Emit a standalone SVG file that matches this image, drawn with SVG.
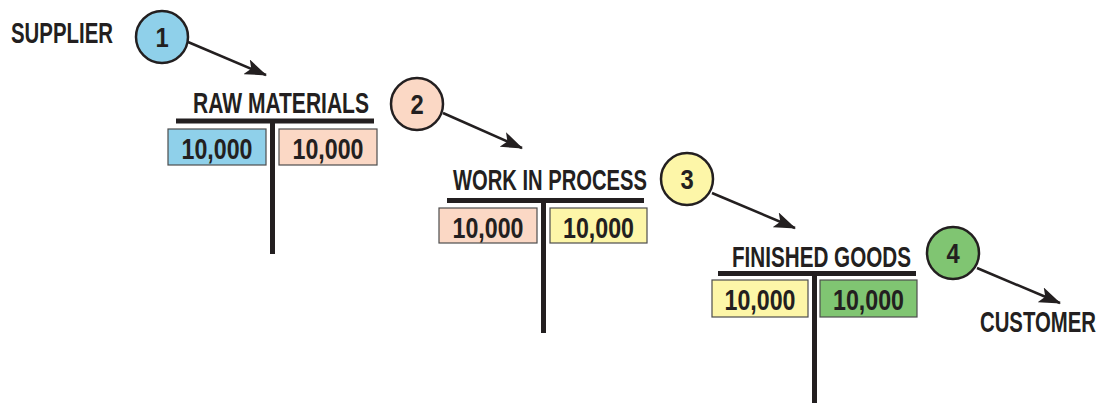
<svg xmlns="http://www.w3.org/2000/svg" width="1103" height="405" viewBox="0 0 1103 405">
<style>
text{font-family:"Liberation Sans","DejaVu Sans",sans-serif;font-weight:bold;fill:#231f20;font-size:29px}
.num{text-anchor:middle}
.dig{text-anchor:middle;font-size:28px}
.bar{stroke:#231f20;stroke-width:5;fill:none}
.box{stroke:#4d4d4d;stroke-width:1.2}
.circ{stroke:#231f20;stroke-width:2.5}
.conn{stroke:#231f20;stroke-width:2.5;fill:none;marker-end:url(#ah)}
.blue{fill:#8fd0ea}.peach{fill:#fbd8c5}.yellow{fill:#fdf6a8}.green{fill:#80c572}
</style>
<defs>
<marker id="ah" markerUnits="userSpaceOnUse" markerWidth="22" markerHeight="16" viewBox="0 0 22 16" refX="21" refY="8" orient="auto">
<path d="M0,0 L22,8 L0,16 L5,8 z" fill="#231f20"/>
</marker>
</defs>
<g id="supplier"><text transform="translate(11,43) scale(0.72,1)" textLength="141.7" lengthAdjust="spacingAndGlyphs">SUPPLIER</text></g>
<g id="step1"><circle class="circ blue" cx="162" cy="37" r="26"/><text class="dig" transform="translate(162,47) scale(0.85,1)">1</text></g>
<g id="raw-materials">
<text transform="translate(193,113) scale(0.72,1)" textLength="244.4" lengthAdjust="spacingAndGlyphs">RAW MATERIALS</text>
<line class="bar" x1="176" y1="121" x2="374" y2="121"/>
<line class="bar" x1="272.5" y1="121" x2="272.5" y2="254"/>
<rect class="box blue" x="168" y="129" width="98" height="36"/>
<rect class="box peach" x="279" y="129" width="98" height="36"/>
<text class="num" transform="translate(217,159) scale(0.8,1)" textLength="88.75" lengthAdjust="spacingAndGlyphs">10,000</text>
<text class="num" transform="translate(328,159) scale(0.8,1)" textLength="88.75" lengthAdjust="spacingAndGlyphs">10,000</text>
</g>
<g id="step2"><circle class="circ peach" cx="417" cy="104" r="26"/><text class="dig" transform="translate(417,114) scale(0.85,1)">2</text></g>
<g id="work-in-process">
<text transform="translate(453,190) scale(0.72,1)" textLength="269.4" lengthAdjust="spacingAndGlyphs">WORK IN PROCESS</text>
<line class="bar" x1="447" y1="200.5" x2="644" y2="200.5"/>
<line class="bar" x1="543.5" y1="200.5" x2="543.5" y2="333"/>
<rect class="box peach" x="439" y="208" width="98" height="35"/>
<rect class="box yellow" x="550" y="208" width="97" height="35"/>
<text class="num" transform="translate(488,238) scale(0.8,1)" textLength="88.75" lengthAdjust="spacingAndGlyphs">10,000</text>
<text class="num" transform="translate(598.5,238) scale(0.8,1)" textLength="88.75" lengthAdjust="spacingAndGlyphs">10,000</text>
</g>
<g id="step3"><circle class="circ yellow" cx="687" cy="179" r="26"/><text class="dig" transform="translate(687,189) scale(0.85,1)">3</text></g>
<g id="finished-goods">
<text transform="translate(732,267) scale(0.72,1)" textLength="248.6" lengthAdjust="spacingAndGlyphs">FINISHED GOODS</text>
<line class="bar" x1="718" y1="273.5" x2="916" y2="273.5"/>
<line class="bar" x1="814.5" y1="273.5" x2="814.5" y2="403"/>
<rect class="box yellow" x="712" y="280" width="96" height="37"/>
<rect class="box green" x="820" y="280" width="97" height="37"/>
<text class="num" transform="translate(760,310) scale(0.8,1)" textLength="88.75" lengthAdjust="spacingAndGlyphs">10,000</text>
<text class="num" transform="translate(868.5,310) scale(0.8,1)" textLength="88.75" lengthAdjust="spacingAndGlyphs">10,000</text>
</g>
<g id="step4"><circle class="circ green" cx="953" cy="253" r="26"/><text class="dig" transform="translate(953,263) scale(0.85,1)">4</text></g>
<g id="customer"><text transform="translate(980,332) scale(0.72,1)" textLength="161.1" lengthAdjust="spacingAndGlyphs">CUSTOMER</text></g>
<g id="connectors">
<line class="conn" x1="188" y1="42" x2="266" y2="75"/>
<line class="conn" x1="443" y1="113" x2="522" y2="148"/>
<line class="conn" x1="712" y1="193" x2="795" y2="228"/>
<line class="conn" x1="977" y1="268" x2="1060" y2="303"/>
</g>
</svg>
